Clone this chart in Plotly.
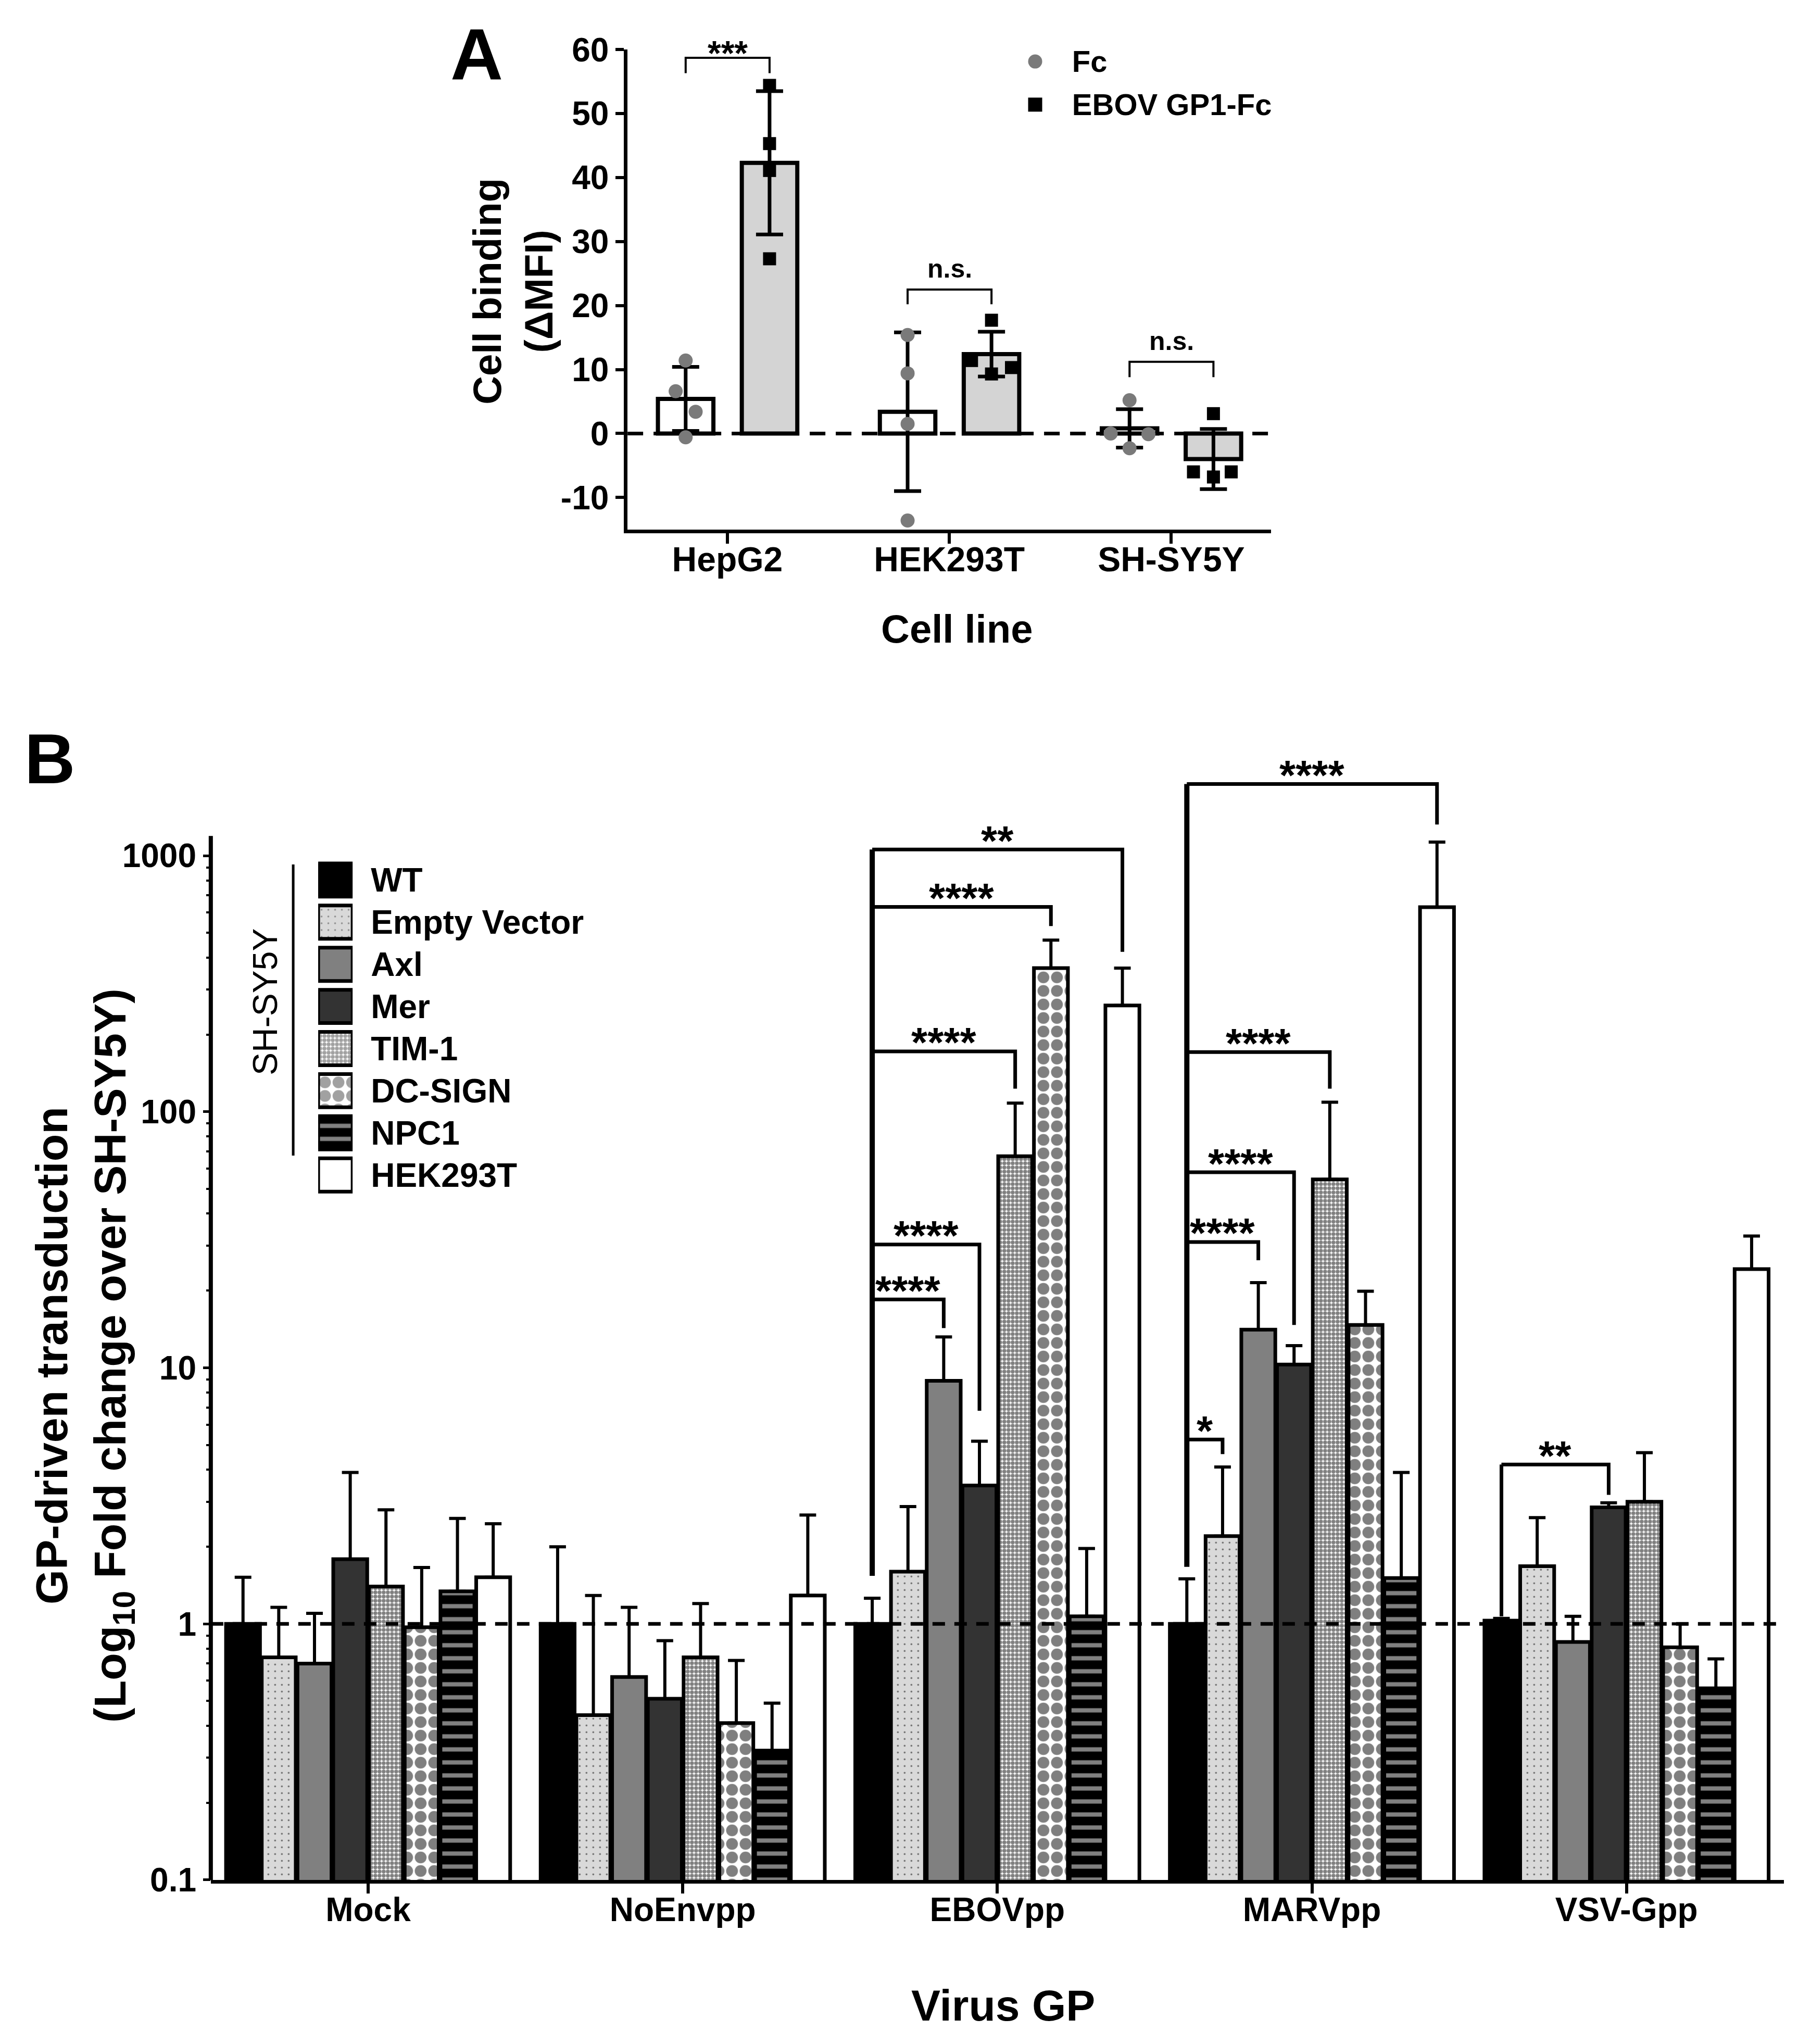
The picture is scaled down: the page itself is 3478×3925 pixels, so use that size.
import numpy as np
import plotly.graph_objects as go

FONT = "Liberation Sans, Arial, Helvetica, sans-serif"

# ---------------- Panel A: cell binding ----------------
cell_lines = ["HepG2", "HEK293T", "SH-SY5Y"]
fc_mean = [5.4, 3.4, 0.8]
fc_sd = [5.0, 12.4, 3.0]
gp1_mean = [42.3, 12.4, -4.0]
gp1_sd = [11.2, 3.5, 4.7]
fc_points = [[11.4, 6.6, 3.4, -0.6], [15.4, 9.4, 1.5, -13.6], [5.2, 0.0, -0.1, -2.3]]
gp1_points = [[54.4, 45.3, 41.1, 27.3], [17.7, 11.4, 10.3, 9.3], [3.1, -6.0, -6.0, -6.8]]
sig_a_labels = ["***", "n.s.", "n.s."]
sig_a_top = [58.7, 22.5, 11.2]
sig_a_leg = [56.3, 20.2, 8.8]
a_ticks = [-10, 0, 10, 20, 30, 40, 50, 60]
a_ticktext = ["-10", "0", "10", "20", "30", "40", "50", "60"]

# ---------------- Panel B: GP-driven transduction ----------------
virus_gp = ["Mock", "NoEnvpp", "EBOVpp", "MARVpp", "VSV-Gpp"]
cell_types = ["WT", "Empty Vector", "Axl", "Mer", "TIM-1", "DC-SIGN", "NPC1", "HEK293T"]

wt_fold = [1.0, 1.0, 1.0, 1.0, 1.03]
ev_fold = [0.74, 0.44, 1.6, 2.2, 1.68]
axl_fold = [0.70, 0.62, 8.9, 14.1, 0.85]
mer_fold = [1.79, 0.51, 3.47, 10.3, 2.85]
tim1_fold = [1.40, 0.74, 67.0, 54.4, 3.0]
dcsign_fold = [0.97, 0.41, 364.0, 14.7, 0.81]
npc1_fold = [1.34, 0.32, 1.07, 1.51, 0.56]
hek_fold = [1.52, 1.29, 260.0, 629.0, 24.3]

wt_sd = [0.52, 1.0, 0.26, 0.5, 0.02]
ev_sd = [0.42, 0.85, 1.27, 1.9, 0.92]
axl_sd = [0.40, 0.54, 4.3, 7.4, 0.22]
mer_sd = [2.11, 0.35, 1.7, 1.9, 0.12]
tim1_sd = [1.39, 0.46, 41.0, 54.6, 1.66]
dcsign_sd = [0.69, 0.31, 104.0, 5.2, 0.19]
npc1_sd = [1.24, 0.17, 0.9, 2.39, 0.17]
hek_sd = [0.94, 1.37, 104.0, 501.0, 8.4]

fold = [wt_fold, ev_fold, axl_fold, mer_fold, tim1_fold, dcsign_fold, npc1_fold, hek_fold]
sd = [wt_sd, ev_sd, axl_sd, mer_sd, tim1_sd, dcsign_sd, npc1_sd, hek_sd]

# significance brackets: group, compared bar, bracket height, leg end, label
sig_b_group = [2, 2, 2, 2, 2, 3, 3, 3, 3, 3, 4]
sig_b_target = [2, 3, 4, 5, 7, 1, 2, 3, 4, 7, 3]
sig_b_top = [18.5, 30.3, 172, 631, 1057, 5.25, 31, 58, 171, 1905, 4.19]
sig_b_leg = [14.3, 6.8, 123, 531, 421, 4.6, 26.3, 14.7, 123, 1324, 3.19]
sig_b_labels = ["****", "****", "****", "****", "**", "*", "****", "****", "****", "****", "**"]
wt_line_group = [2, 3, 4]
wt_line_bottom = [1.54, 1.67, 1.07]

b_ticks = [0.1, 1, 10, 100, 1000]
b_ticktext = ["0.1", "1", "10", "100", "1000"]
b_minor = [m * 10.0 ** e for e in range(-1, 3) for m in range(2, 10)]

# ---------------- styles ----------------
bar_styles = [
    dict(color="black", shape="", fg="black", bg="black", size=8, sol=0.3),
    dict(color="#d9d9d9", shape=".", fg="black", bg="#d9d9d9", size=13, sol=0.06),
    dict(color="#808080", shape="", fg="black", bg="#808080", size=8, sol=0.3),
    dict(color="#333333", shape="", fg="black", bg="#333333", size=8, sol=0.3),
    dict(color="white", shape=".", fg="black", bg="white", size=8, sol=0.7),
    dict(color="white", shape=".", fg="black", bg="white", size=26, sol=0.6),
    dict(color="black", shape="-", fg="white", bg="black", size=25, sol=0.33),
    dict(color="white", shape="", fg="black", bg="white", size=8, sol=0.3),
]
slot = 0.1136
bw = 0.108
a_off = [-0.188, 0.19]
a_bw = 0.25
fc_jitter = [[0, -0.045, 0.045, 0], [0, 0, 0, 0], [0, -0.085, 0.085, 0]]
gp1_jitter = [[0, 0, 0, 0], [0, -0.09, 0.09, 0], [0, -0.09, 0.08, 0]]


def bar_x(group, k):
    return group + (k - 3.5) * slot


fig = go.Figure()

# ---- Panel A traces ----
xa = list(range(len(cell_lines)))
fig.add_trace(go.Bar(
    x=xa, y=fc_mean, offset=a_off[0] - a_bw / 2, width=a_bw,
    marker=dict(color="white", line=dict(color="black", width=8)),
    error_y=dict(type="data", array=fc_sd, color="black", thickness=7, width=26),
    xaxis="x", yaxis="y"))
fig.add_trace(go.Bar(
    x=xa, y=gp1_mean, offset=a_off[1] - a_bw / 2, width=a_bw,
    marker=dict(color="#d4d4d4", line=dict(color="black", width=8)),
    error_y=dict(type="data", array=gp1_sd, color="black", thickness=7, width=26),
    xaxis="x", yaxis="y"))
fig.add_trace(go.Scatter(
    x=[-0.45, 2.45], y=[0, 0], mode="lines",
    line=dict(color="black", width=7, dash="30px,20px"), xaxis="x", yaxis="y"))
px, py = [], []
for i, pts in enumerate(fc_points):
    px += [i + a_off[0] + j for j in fc_jitter[i]]
    py += pts
fig.add_trace(go.Scatter(x=px, y=py, mode="markers", cliponaxis=False,
                         marker=dict(symbol="circle", color="#7a7a7a", size=27),
                         xaxis="x", yaxis="y"))
px, py = [], []
for i, pts in enumerate(gp1_points):
    px += [i + a_off[1] + j for j in gp1_jitter[i]]
    py += pts
fig.add_trace(go.Scatter(x=px, y=py, mode="markers", cliponaxis=False,
                         marker=dict(symbol="square", color="black", size=25),
                         xaxis="x", yaxis="y"))
for i in range(len(cell_lines)):
    xl, xr = i + a_off[0], i + a_off[1]
    fig.add_trace(go.Scatter(
        x=[xl, xl, xr, xr], y=[sig_a_leg[i], sig_a_top[i], sig_a_top[i], sig_a_leg[i]],
        mode="lines", line=dict(color="black", width=4), xaxis="x", yaxis="y"))

# ---- Panel B traces ----
xb = list(range(len(virus_gp)))
for k, name in enumerate(cell_types):
    s = bar_styles[k]
    fig.add_trace(go.Bar(
        x=xb, y=fold[k], name=name, offset=(k - 3.5) * slot - bw / 2, width=bw,
        marker=dict(color=s["color"], line=dict(color="black", width=7),
                    pattern=dict(shape=s["shape"], fgcolor=s["fg"], bgcolor=s["bg"],
                                 size=s["size"], solidity=s["sol"])),
        error_y=dict(type="data", symmetric=False, array=sd[k], arrayminus=[0] * len(xb),
                     color="black", thickness=6, width=16),
        xaxis="x2", yaxis="y2"))
fig.add_trace(go.Scatter(
    x=[-0.5, 4.5], y=[1, 1], mode="lines",
    line=dict(color="black", width=7, dash="24px,18px"), xaxis="x2", yaxis="y2"))

annotations = []
for g, bottom in zip(wt_line_group, wt_line_bottom):
    top = max(t for gg, t in zip(sig_b_group, sig_b_top) if gg == g)
    fig.add_trace(go.Scatter(
        x=[bar_x(g, 0), bar_x(g, 0)], y=[bottom, top], mode="lines",
        line=dict(color="black", width=10 if g < 4 else 7), xaxis="x2", yaxis="y2"))
for g, k, top, leg, lab in zip(sig_b_group, sig_b_target, sig_b_top, sig_b_leg, sig_b_labels):
    xl, xr = bar_x(g, 0), bar_x(g, k)
    fig.add_trace(go.Scatter(
        x=[xl, xr, xr], y=[top, top, leg], mode="lines",
        line=dict(color="black", width=7), xaxis="x2", yaxis="y2"))
    annotations.append(dict(
        x=(xl + xr) / 2, y=np.log10(top), xref="x2", yref="y2", text=lab,
        xanchor="center", yanchor="middle",
        showarrow=False, yshift=17, font=dict(size=80, weight="bold")))

for i, lab in enumerate(sig_a_labels):
    star = lab.startswith("*")
    annotations.append(dict(
        x=i + (a_off[0] + a_off[1]) / 2, y=sig_a_top[i], xref="x", yref="y", text=lab,
        xanchor="center", yanchor="middle",
        showarrow=False, yshift=9 if star else 40,
        font=dict(size=66 if star else 50, weight="bold")))

# ---- legends drawn as small subplots ----
fig.add_trace(go.Bar(
    x=[1] * len(cell_types), y=cell_types, orientation="h", width=0.79, cliponaxis=False,
    marker=dict(color=[s["color"] for s in bar_styles], line=dict(color="black", width=7),
                pattern=dict(shape=[s["shape"] for s in bar_styles],
                             fgcolor=[s["fg"] for s in bar_styles],
                             bgcolor=[s["bg"] for s in bar_styles],
                             size=[s["size"] for s in bar_styles],
                             solidity=[s["sol"] for s in bar_styles])),
    xaxis="x3", yaxis="y3"))
fig.add_trace(go.Scatter(
    x=[0, 0], y=["Fc", "EBOV GP1-Fc"], mode="markers", cliponaxis=False,
    marker=dict(symbol=["circle", "square"], color=["#7a7a7a", "black"], size=27),
    xaxis="x4", yaxis="y4"))


def paper_text(x, y, text, size, angle=0, weight="bold"):
    return dict(x=x, y=y, xref="paper", yref="paper", text=text, showarrow=False,
                xanchor="center", yanchor="middle", textangle=angle,
                font=dict(size=size, weight=weight))


annotations += [
    paper_text(0.261, 0.9755, "A", 140),
    paper_text(0.0253, 0.6306, "B", 135),
    paper_text(0.281, 0.8595, "Cell binding<br>(\u0394MFI)", 76, angle=-90),
    paper_text(0.526, 0.6945, "Cell line", 76),
    paper_text(0.0443, 0.3389,
               "GP-driven transduction<br>(Log<sub>10</sub> Fold change over SH-SY5Y)",
               86, angle=-90),
    paper_text(0.5515, 0.0208, "Virus GP", 84),
    paper_text(0.1440, 0.5118, "SH-SY5Y", 66, angle=-90, weight="normal"),
]

shapes = [
    # y axis line of panel B (stops just above the 1000 tick)
    dict(type="line", xref="paper", yref="y2", x0=0.1141, x1=0.1141, y0=0.1, y1=1194,
         line=dict(color="black", width=8)),
    # bracket line next to the legend
    dict(type="line", xref="paper", yref="paper", x0=0.1596, x1=0.1596, y0=0.4367, y1=0.5791,
         line=dict(color="black", width=5)),
]

axis_common = dict(showgrid=False, zeroline=False, color="black", automargin=False)
fig.update_layout(
    width=3478, height=3925, margin=dict(l=0, r=0, t=0, b=0, pad=0, autoexpand=False),
    paper_bgcolor="white", plot_bgcolor="white",
    font=dict(family=FONT, color="black", size=60),
    showlegend=False, barmode="overlay",
    annotations=annotations, shapes=shapes,
    xaxis=dict(domain=[0.3442, 0.6996], anchor="y", range=[-0.45, 2.45],
               tickmode="array", tickvals=xa, ticktext=cell_lines,
               showline=True, linewidth=7, linecolor="black",
               ticks="outside", ticklen=20, tickwidth=6, tickcolor="black",
               ticklabelstandoff=-26, tickfont=dict(size=66, weight="bold"), **axis_common),
    yaxis=dict(domain=[0.7430, 0.9778], anchor="x", range=[-15, 60],
               tickmode="array", tickvals=a_ticks, ticktext=a_ticktext,
               showline=True, linewidth=7, linecolor="black",
               ticks="outside", ticklen=16, tickwidth=6, tickcolor="black",
               tickfont=dict(size=64, weight="bold"), **axis_common),
    xaxis2=dict(domain=[0.1141, 0.9827], anchor="y2", range=[-0.5, 4.5],
                tickmode="array", tickvals=xb, ticktext=virus_gp,
                showline=True, linewidth=7, linecolor="black",
                ticks="outside", ticklen=19, tickwidth=6, tickcolor="black",
                ticklabelstandoff=-24, tickfont=dict(size=64, weight="bold"), **axis_common),
    yaxis2=dict(domain=[0.0823, 0.6398], anchor="x2", type="log", range=[-1, 3.45],
                tickmode="array", tickvals=b_ticks, ticktext=b_ticktext,
                showline=False, ticks="outside", ticklen=14, tickwidth=5, tickcolor="black",
                tickfont=dict(size=64, weight="bold"),
                minor=dict(tickmode="array", tickvals=b_minor, ticks="outside",
                           ticklen=8, tickwidth=4, tickcolor="black", showgrid=False),
                **axis_common),
    xaxis3=dict(domain=[0.1734, 0.1924], anchor="y3", range=[0, 1], visible=False,
                automargin=False),
    yaxis3=dict(domain=[0.4169, 0.5818], anchor="x3", type="category",
                categoryorder="array", categoryarray=cell_types, range=[7.5, -0.5],
                side="right", showline=False, ticks="", ticklabelstandoff=34,
                tickfont=dict(size=64, weight="bold"), **axis_common),
    xaxis4=dict(domain=[0.5636, 0.5750], anchor="y4", range=[-1, 1], visible=False,
                automargin=False),
    yaxis4=dict(domain=[0.9403, 0.9825], anchor="x4", type="category",
                categoryorder="array", categoryarray=["Fc", "EBOV GP1-Fc"], range=[1.5, -0.5],
                side="right", showline=False, ticks="", ticklabelstandoff=50,
                tickfont=dict(size=58, weight="bold"), **axis_common),
)

fig.write_html("out.html")
